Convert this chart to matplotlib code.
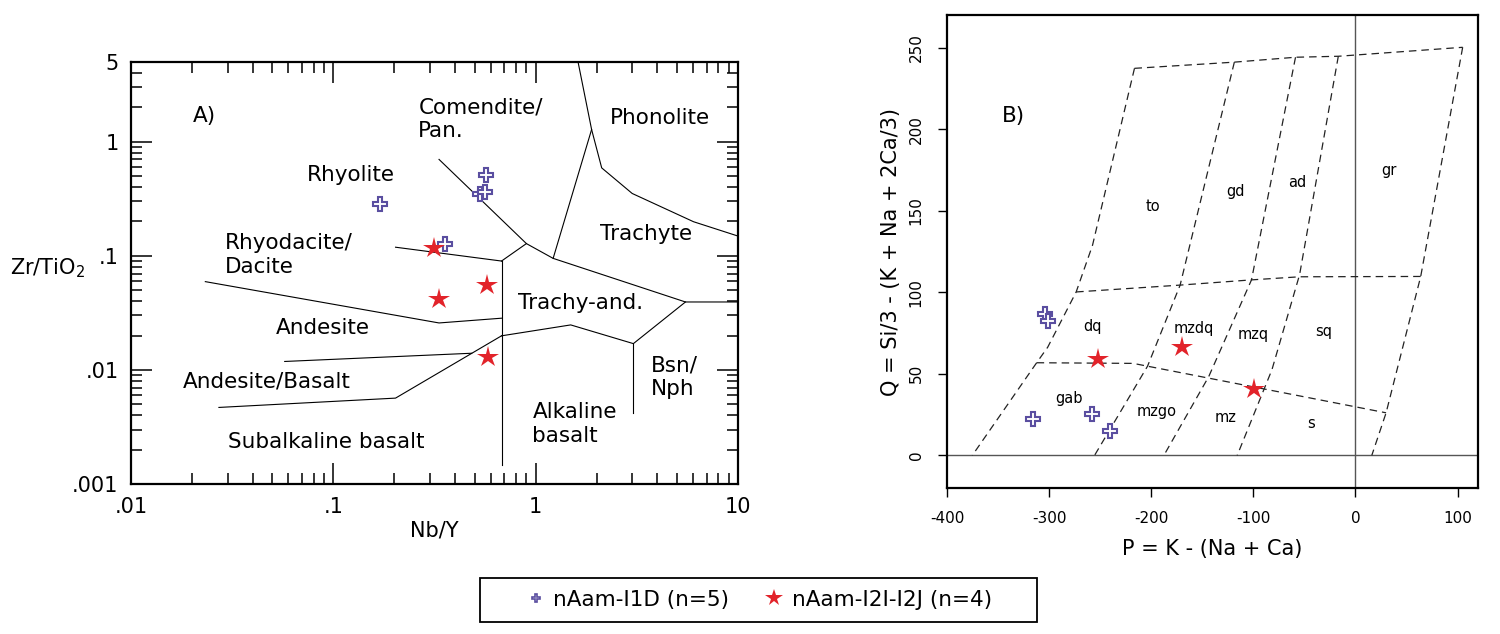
import matplotlib
matplotlib.use('Agg')
import matplotlib.pyplot as plt
from matplotlib.lines import Line2D
from matplotlib.patches import Rectangle
from matplotlib.ticker import LogLocator, NullFormatter

# ---------------- data: A) Nb/Y vs Zr/TiO2 ----------------
i1d_nby = [0.170, 0.570, 0.528, 0.561, 0.357]
i1d_zrti = [0.282, 0.516, 0.345, 0.362, 0.128]
i2i_nby = [0.315, 0.333, 0.578, 0.583]
i2i_zrti = [0.116, 0.0416, 0.0556, 0.0129]

# field boundaries (Nb/Y, Zr/TiO2)
fields_A = [
    [(1.62, 5), (1.89, 1.28), (2.12, 0.59), (3.0, 0.352), (6.03, 0.199), (10, 0.149)],
    [(1.89, 1.28), (1.22, 0.095)],
    [(0.333, 0.70), (0.90, 0.128), (1.22, 0.095), (5.5, 0.0394), (10, 0.0394)],
    [(0.90, 0.128), (0.678, 0.090)],
    [(0.678, 0.090), (0.678, 0.00147)],
    [(0.203, 0.119), (0.678, 0.090)],
    [(0.0233, 0.0594), (0.333, 0.0258), (0.678, 0.0284)],
    [(0.678, 0.0199), (1.49, 0.0248), (3.04, 0.0170), (5.5, 0.0394)],
    [(3.04, 0.0170), (3.04, 0.00423)],
    [(0.0575, 0.01186), (0.483, 0.0140)],
    [(0.678, 0.0199), (0.203, 0.00566), (0.0272, 0.00469)],
]

labels_A = [
    ('Comendite/\nPan.', 0.263, 1.57, 'left'),
    ('Phonolite', 4.11, 1.62, 'center'),
    ('Rhyolite', 0.122, 0.506, 'center'),
    ('Trachyte', 3.52, 0.156, 'center'),
    ('Rhyodacite/\nDacite', 0.0291, 0.102, 'left'),
    ('Trachy-and.', 1.67, 0.0384, 'center'),
    ('Andesite', 0.089, 0.0235, 'center'),
    ('Bsn/\nNph', 3.72, 0.00865, 'left'),
    ('Andesite/Basalt', 0.0468, 0.00787, 'center'),
    ('Alkaline\nbasalt', 0.964, 0.00333, 'left'),
    ('Subalkaline basalt', 0.0918, 0.00232, 'center'),
]

xticks_A = [0.01, 0.1, 1, 10]
xticklabels_A = ['.01', '.1', '1', '10']
yticks_A = [0.001, 0.01, 0.1, 1, 5]
yticklabels_A = ['.001', '.01', '.1', '1', '5']

# ---------------- data: B) P-Q diagram ----------------
i1d_p = [-304.2, -301.4, -316.2, -258.3, -240.3]
i1d_q = [86.9, 82.2, 22.5, 25.4, 15.0]
i2i_p = [-252.3, -169.7, -99.8]
i2i_q = [58.9, 66.3, 40.9]

fields_B = [
    [(-216.4, 237.3), (-118.6, 241.1), (-58.7, 244.1), (-16.8, 244.7), (105, 250.2)],
    [(-216.4, 237.3), (-257.5, 128.8), (-273.5, 100.2), (-301.4, 66.3), (-312.2, 56.8), (-375.2, 0)],
    [(-118.6, 241.1), (-171.7, 104.4), (-203.6, 54.7), (-255.5, 0)],
    [(-58.7, 244.1), (-101.8, 107.6), (-143.7, 48.3), (-187.6, 0)],
    [(-16.8, 244.7), (-54.7, 110.8), (-81.8, 52.5), (-115.8, 0)],
    [(105, 250.2), (63.9, 109.7), (30, 26.1), (16, 0)],
    [(-273.5, 100.2), (-171.7, 104.4), (-101.8, 107.6), (-54.7, 109.5), (63.9, 109.7)],
    [(-312.2, 56.8), (-217.6, 56.4), (30, 26.1)],
]

labels_B = [
    ('to', -198.4, 152.8), ('gd', -117.8, 161.7), ('ad', -56.7, 167.6),
    ('gr', 32.7, 174.4), ('dq', -257.5, 79.0), ('mzdq', -158.5, 78.0),
    ('mzq', -99.8, 74.4), ('sq', -31.1, 75.8), ('gab', -280.2, 35.0),
    ('mzgo', -194.8, 27.1), ('mz', -126.9, 23.5), ('s', -43.9, 19.3),
]

xticks_B = [-400, -300, -200, -100, 0, 100]
yticks_B = [0, 50, 100, 150, 200, 250]

legend_names = ['nAam-I1D (n=5)', 'nAam-I2I-I2J (n=4)']

cross_col = '#5a4ea0'
star_col = '#e2232a'

plt.rcParams['font.family'] = ['DejaVu Sans']
plt.rcParams['axes.unicode_minus'] = False

fig = plt.figure(figsize=(15, 6.34), dpi=100)

#### A)
axA = fig.add_axes([0.08733, 0.23659, 0.40467, 0.66562])
axA.set_xscale('log')
axA.set_yscale('log')
axA.set_xlim(0.01, 10)
axA.set_ylim(0.001, 5)
for seg in fields_A:
    xs = [p[0] for p in seg]
    ys = [p[1] for p in seg]
    axA.plot(xs, ys, color='black', lw=0.8)
for txt, x, y, ha in labels_A:
    axA.text(x, y, txt, ha=ha, va='center', fontsize=15.5, linespacing=1.25)
axA.text(0.0201, 1.67, 'A)', ha='left', va='center', fontsize=15.5)

axA.plot(i1d_nby, i1d_zrti, 'P', ms=10, mfc='white', mec=cross_col, mew=1.5, ls='none')
axA.plot(i2i_nby, i2i_zrti, '*', ms=16, color=star_col, mew=0, ls='none')

axA.set_xticks(xticks_A)
axA.set_xticklabels(xticklabels_A)
axA.set_yticks(yticks_A)
axA.set_yticklabels(yticklabels_A)
axA.xaxis.set_minor_locator(LogLocator(subs=range(2, 10)))
axA.yaxis.set_minor_locator(LogLocator(subs=range(2, 10)))
axA.xaxis.set_minor_formatter(NullFormatter())
axA.yaxis.set_minor_formatter(NullFormatter())
axA.tick_params(which='both', direction='in', top=True, right=True, width=1.1)
axA.tick_params(which='major', length=15, labelsize=15, pad=9)
axA.tick_params(which='minor', length=8)
for sp in axA.spines.values():
    sp.set_linewidth(1.6)
axA.text(0.5, -0.111, 'Nb/Y', transform=axA.transAxes, ha='center', va='center', fontsize=15)
axA.text(-0.137, 0.512, r'Zr/TiO$_2$', transform=axA.transAxes, ha='center', va='center', fontsize=15)

#### B)
axB = fig.add_axes([0.63133, 0.23028, 0.354, 0.74606])
axB.set_xlim(-400, 120)
axB.set_ylim(-20, 270)
axB.axhline(0, color='#555555', lw=1)
axB.axvline(0, color='#555555', lw=1)
for seg in fields_B:
    xs = [p[0] for p in seg]
    ys = [p[1] for p in seg]
    axB.plot(xs, ys, color='#222222', lw=0.9, ls=(0, (6, 4)))
for txt, x, y in labels_B:
    axB.text(x, y, txt, ha='center', va='center', fontsize=10.5)
axB.text(-335.3, 208.3, 'B)', ha='center', va='center', fontsize=15.5)

axB.plot(i1d_p, i1d_q, 'P', ms=10, mfc='white', mec=cross_col, mew=1.5, ls='none')
axB.plot(i2i_p, i2i_q, '*', ms=16, color=star_col, mew=0, ls='none')

axB.set_xticks(xticks_B)
axB.set_yticks(yticks_B)
axB.tick_params(direction='out', length=6.7, width=1, labelsize=11, pad=10)
for lab in axB.get_yticklabels():
    lab.set_rotation(90)
    lab.set_va('center')
for sp in axB.spines.values():
    sp.set_linewidth(1.6)
axB.text(0.5, -0.129, 'P = K - (Na + Ca)', transform=axB.transAxes, ha='center', va='center', fontsize=15)
axB.text(-0.105, 0.5, 'Q = Si/3 - (K + Na + 2Ca/3)', transform=axB.transAxes, ha='center', va='center',
         rotation=90, fontsize=15)

#### legend
fig.patches.append(Rectangle((480 / 1500, 1 - 622 / 634), 557 / 1500, 44 / 634, transform=fig.transFigure,
                             fill=False, edgecolor='black', lw=1.3))
handles = [Line2D([], [], marker='P', ms=6, mfc='white', mec=cross_col, mew=1.2, ls='none'),
           Line2D([], [], marker='*', ms=13, color=star_col, mew=0, ls='none')]
fig.legend(handles, legend_names, loc='center', bbox_to_anchor=(0.5057, 0.0536), ncol=2, frameon=False,
           fontsize=15.5, handlelength=1.0, handletextpad=0.3, columnspacing=1.6)

fig.savefig('out.png', dpi=100)
